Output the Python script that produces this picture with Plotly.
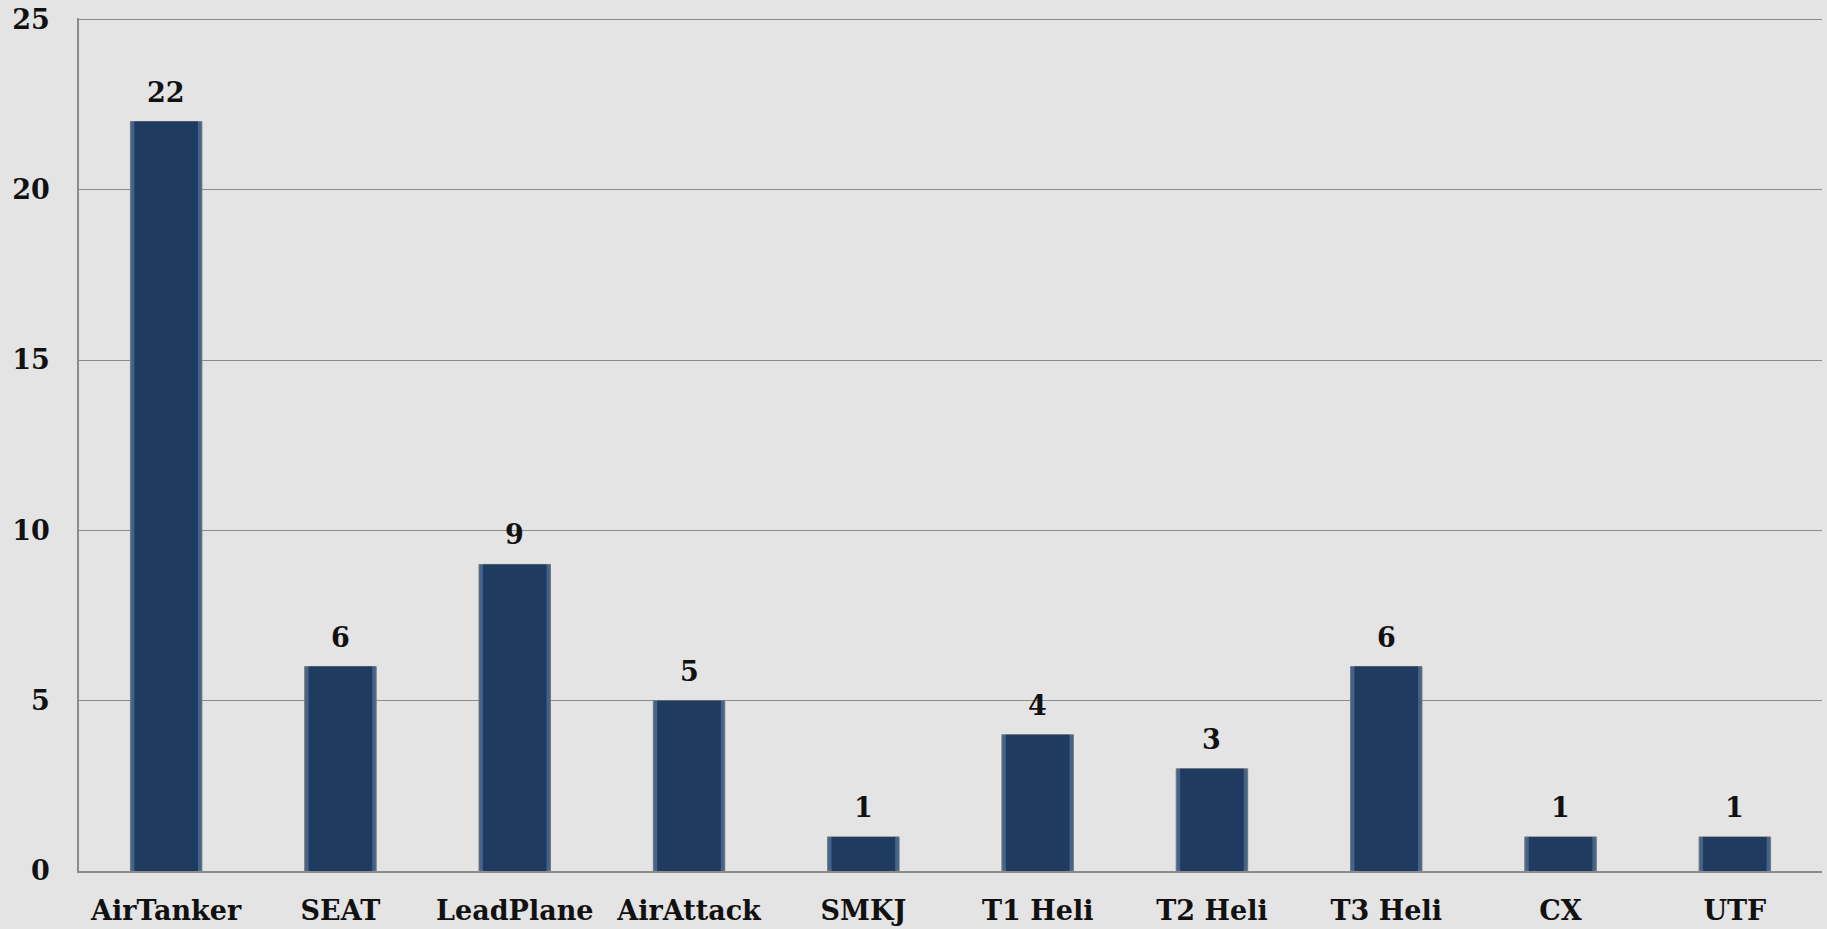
import plotly.graph_objects as go

categories = ["AirTanker", "SEAT", "LeadPlane", "AirAttack", "SMKJ",
              "T1 Heli", "T2 Heli", "T3 Heli", "CX", "UTF"]
counts = [22, 6, 9, 5, 1, 4, 3, 6, 1, 1]
y_ticks = [0, 5, 10, 15, 20, 25]

label_font = dict(family="DejaVu Serif", size=27, color="#111111", weight="bold")
bg = "#e4e4e4"
grid = "#8c8c8c"

fig = go.Figure()

# outer lighter shell gives the bevelled edge look
fig.add_trace(go.Bar(
    x=categories, y=counts,
    marker=dict(color="#42638c", line=dict(color="#777777", width=1)),
    width=0.41, hoverinfo="skip",
))
# darker core
fig.add_trace(go.Bar(
    x=categories, y=counts,
    marker=dict(color="#1f3b60", line=dict(width=0)),
    width=0.365, hoverinfo="skip",
))

# value labels above the bars
for cat, val in zip(categories, counts):
    fig.add_annotation(x=cat, y=val, text=str(val), showarrow=False,
                       yanchor="bottom", yshift=12, font=label_font)

fig.update_layout(
    barmode="overlay",
    showlegend=False,
    width=1827, height=929,
    margin=dict(l=79, r=5, t=18, b=58),
    paper_bgcolor=bg, plot_bgcolor=bg,
)
fig.update_xaxes(
    tickfont=label_font, automargin=False,
    showline=True, linecolor=grid, linewidth=1.5,
    showgrid=False, ticks="", ticklabelstandoff=15,
)
fig.update_yaxes(
    range=[0, 25.04], tickvals=y_ticks,
    tickfont=label_font, automargin=False,
    showline=True, linecolor=grid, linewidth=1.5,
    showgrid=True, gridcolor=grid, gridwidth=1.2,
    zeroline=False, ticks="", ticklabelstandoff=22,
)

fig.write_html("out.html", config={"displayModeBar": False},
               post_script="document.body.style.margin='0';")
